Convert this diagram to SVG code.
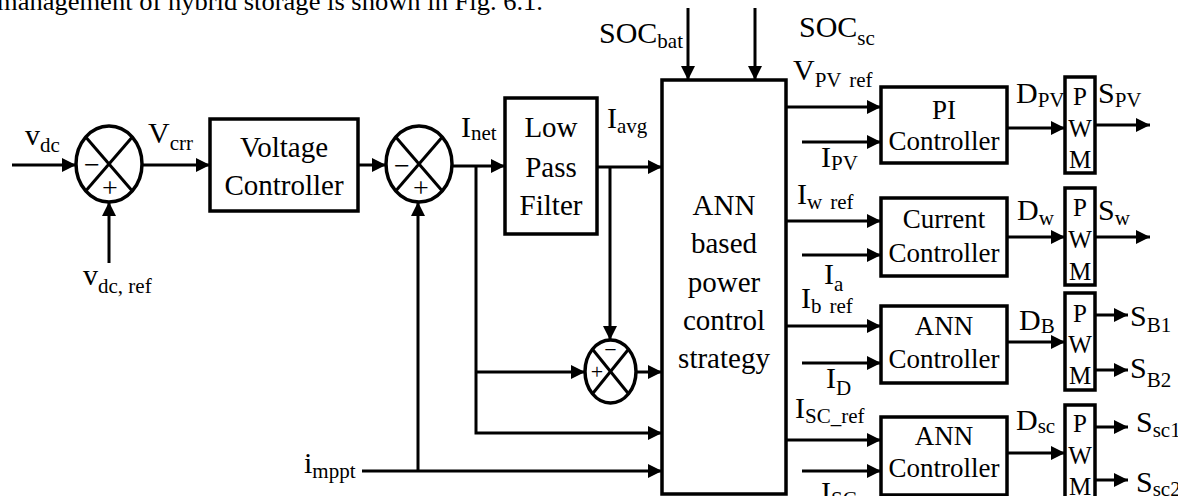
<svg xmlns="http://www.w3.org/2000/svg" width="1178" height="496" viewBox="0 0 1178 496">
<defs>
<marker id="ah" viewBox="0 0 14 14" refX="14" refY="7" markerWidth="14" markerHeight="14" markerUnits="userSpaceOnUse" orient="auto">
<path d="M0,0 L14,7 L0,14 z" fill="#000"/>
</marker>
<style>
.box{fill:#fff;stroke:#000;stroke-width:3.5}
.sum{fill:#fff;stroke:#000;stroke-width:3.5}
.x{stroke:#000;stroke-width:3}
.w{fill:none;stroke:#000;stroke-width:3;marker-end:url(#ah)}
text{font-family:"Liberation Serif","Times New Roman",serif;fill:#000}
.bt{font-size:29px;text-anchor:middle}
.ct{font-size:27px;text-anchor:middle}
.lb{font-size:30px}
.s{font-size:21px}
.pw{font-size:25px;text-anchor:middle}
.sg{font-size:28px;text-anchor:middle}
.sg2{font-size:22px;text-anchor:middle}
</style>
</defs>
<rect width="1178" height="496" fill="#fff"/>
<text x="-3" y="10" font-size="26" textLength="546" lengthAdjust="spacingAndGlyphs">management of hybrid storage is shown in Fig. 6.1.</text>

<g id="connectors">
<path class="w" d="M12,165 H76"/>
<path class="w" d="M109,263 V202"/>
<path class="w" d="M142,165 H210"/>
<path class="w" d="M358,165 H386"/>
<path class="w" d="M452,166 H505"/>
<path class="w" d="M476,166 V433 H662"/>
<path class="w" d="M476,372 H585"/>
<path class="w" d="M597,167 H662"/>
<path class="w" d="M610,167 V340"/>
<path class="w" d="M636,372 H662"/>
<path class="w" d="M362,471 H662"/>
<path class="w" d="M418,471 V202"/>
<path class="w" d="M688,8 V80"/>
<path class="w" d="M755,8 V80"/>
<path class="w" d="M786,107 H881"/>
<path class="w" d="M786,221 H881"/>
<path class="w" d="M786,326 H881"/>
<path class="w" d="M786,440 H881"/>
<path class="w" d="M802,142 H881"/>
<path class="w" d="M802,255 H881"/>
<path class="w" d="M802,363 H881"/>
<path class="w" d="M802,471 H881"/>
<path class="w" d="M1007,128 H1065"/>
<path class="w" d="M1007,237 H1065"/>
<path class="w" d="M1007,342 H1065"/>
<path class="w" d="M1007,453 H1065"/>
<path class="w" d="M1095,125 H1150"/>
<path class="w" d="M1095,237 H1150"/>
<path class="w" d="M1095,315 H1128"/>
<path class="w" d="M1095,370 H1128"/>
<path class="w" d="M1095,427 H1128"/>
<path class="w" d="M1095,480 H1128"/>
</g>

<g id="sum1">
<ellipse class="sum" cx="109" cy="164" rx="33" ry="38"/>
<line class="x" x1="85.7" y1="137.1" x2="132.3" y2="190.9"/>
<line class="x" x1="132.3" y1="137.1" x2="85.7" y2="190.9"/>
<text class="sg" x="92" y="174">−</text>
<text class="sg" x="110" y="197">+</text>
</g>
<g id="sum2">
<ellipse class="sum" cx="419" cy="164" rx="33" ry="38"/>
<line class="x" x1="395.7" y1="137.1" x2="442.3" y2="190.9"/>
<line class="x" x1="442.3" y1="137.1" x2="395.7" y2="190.9"/>
<text class="sg" x="402" y="175">−</text>
<text class="sg" x="421" y="197">+</text>
</g>
<g id="sum3">
<ellipse class="sum" cx="610.5" cy="371.5" rx="25.5" ry="31.5"/>
<line class="x" x1="592.5" y1="349.2" x2="628.5" y2="393.8"/>
<line class="x" x1="628.5" y1="349.2" x2="592.5" y2="393.8"/>
<text class="sg2" x="610.5" y="357">−</text>
<text class="sg2" x="597" y="379">+</text>
</g>

<g id="voltage-controller">
<rect class="box" x="210" y="119" width="148" height="92"/>
<text class="bt" x="284" y="157">Voltage</text>
<text class="bt" x="284" y="195">Controller</text>
</g>
<g id="low-pass-filter">
<rect class="box" x="505" y="98" width="92" height="136"/>
<text class="bt" x="551" y="137" font-size="28">Low</text>
<text class="bt" x="551" y="177" font-size="28">Pass</text>
<text class="bt" x="551" y="215" font-size="28">Filter</text>
</g>
<g id="ann-strategy">
<rect class="box" x="662" y="80" width="124" height="414"/>
<text class="bt" x="724" y="215">ANN</text>
<text class="bt" x="724" y="253">based</text>
<text class="bt" x="724" y="292">power</text>
<text class="bt" x="724" y="330">control</text>
<text class="bt" x="724" y="368">strategy</text>
</g>
<g id="pi-controller">
<rect class="box" x="881" y="87" width="126" height="76"/>
<text class="ct" x="944" y="119">PI</text>
<text class="ct" x="944" y="150">Controller</text>
</g>
<g id="current-controller">
<rect class="box" x="881" y="198" width="126" height="78"/>
<text class="ct" x="944" y="228">Current</text>
<text class="ct" x="944" y="262">Controller</text>
</g>
<g id="ann-controller-1">
<rect class="box" x="881" y="306" width="126" height="77"/>
<text class="ct" x="944" y="335">ANN</text>
<text class="ct" x="944" y="368">Controller</text>
</g>
<g id="ann-controller-2">
<rect class="box" x="881" y="417" width="126" height="78"/>
<text class="ct" x="944" y="445">ANN</text>
<text class="ct" x="944" y="477">Controller</text>
</g>
<g id="pwm1">
<rect class="box" x="1065" y="77" width="30" height="96"/>
<text class="pw" x="1080" y="105">P</text>
<text class="pw" x="1080" y="137">W</text>
<text class="pw" x="1080" y="168">M</text>
</g>
<g id="pwm2">
<rect class="box" x="1065" y="188" width="30" height="97"/>
<text class="pw" x="1080" y="216">P</text>
<text class="pw" x="1080" y="248">W</text>
<text class="pw" x="1080" y="280">M</text>
</g>
<g id="pwm3">
<rect class="box" x="1065" y="293" width="30" height="97"/>
<text class="pw" x="1080" y="322">P</text>
<text class="pw" x="1080" y="353">W</text>
<text class="pw" x="1080" y="384">M</text>
</g>
<g id="pwm4">
<rect class="box" x="1065" y="405" width="30" height="96"/>
<text class="pw" x="1080" y="432">P</text>
<text class="pw" x="1080" y="464">W</text>
<text class="pw" x="1080" y="495">M</text>
</g>

<g id="labels">
<text class="lb" x="25" y="145">v<tspan class="s" dy="7">dc</tspan></text>
<text class="lb" x="148" y="143">V<tspan class="s" dy="7">crr</tspan></text>
<text class="lb" x="83" y="285">v<tspan class="s" dy="8">dc, ref</tspan></text>
<text class="lb" x="461" y="137">I<tspan class="s" dy="3">net</tspan></text>
<text class="lb" x="607" y="128">I<tspan class="s" dy="5">avg</tspan></text>
<text class="lb" x="599" y="43">SOC<tspan class="s" dy="5">bat</tspan></text>
<text class="lb" x="799" y="37">SOC<tspan class="s" dy="8">sc</tspan></text>
<text class="lb" x="304" y="473">i<tspan class="s" dy="5">mppt</tspan></text>
<text class="lb" x="793" y="80">V<tspan class="s" dy="7">PV</tspan><tspan class="s" dx="9">ref</tspan></text>
<text class="lb" x="821" y="167">I<tspan class="s" dy="3">PV</tspan></text>
<text class="lb" x="797" y="204">I<tspan class="s" dy="5">w</tspan><tspan class="s" dx="8">ref</tspan></text>
<text class="lb" x="824" y="284">I<tspan class="s" dy="7">a</tspan></text>
<text class="lb" x="801" y="308">I<tspan class="s" dy="5">b</tspan><tspan class="s" dx="8">ref</tspan></text>
<text class="lb" x="826" y="388">I<tspan class="s" dy="7">D</tspan></text>
<text class="lb" x="795" y="418">I<tspan class="s" dy="5">SC_ref</tspan></text>
<text class="lb" x="821" y="502">I<tspan class="s" dy="4">SC</tspan></text>
<text class="lb" x="1016" y="103">D<tspan class="s" dy="4">PV</tspan></text>
<text class="lb" x="1098" y="103">S<tspan class="s" dy="4">PV</tspan></text>
<text class="lb" x="1017" y="220">D<tspan class="s" dy="5">w</tspan></text>
<text class="lb" x="1098" y="220">S<tspan class="s" dy="5">w</tspan></text>
<text class="lb" x="1019" y="330">D<tspan class="s" dy="3">B</tspan></text>
<text class="lb" x="1130" y="326">S<tspan class="s" dy="6">B1</tspan></text>
<text class="lb" x="1130" y="378">S<tspan class="s" dy="9">B2</tspan></text>
<text class="lb" x="1016" y="430">D<tspan class="s" dy="3">sc</tspan></text>
<text class="lb" x="1136" y="432">S<tspan class="s" dy="5">sc1</tspan></text>
<text class="lb" x="1136" y="492">S<tspan class="s" dy="4">sc2</tspan></text>
</g>
</svg>
